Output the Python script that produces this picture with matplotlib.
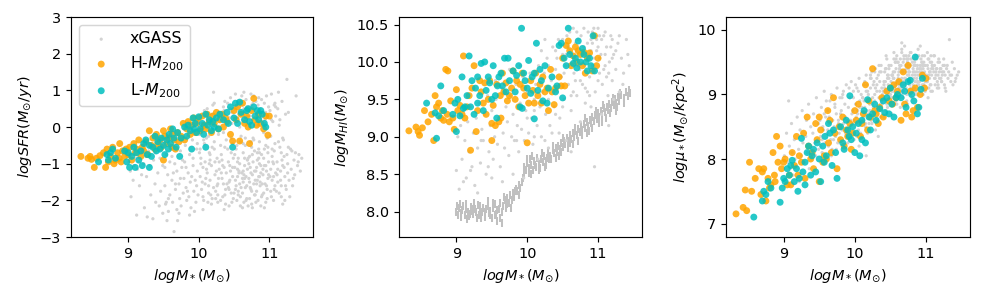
import matplotlib
matplotlib.use("Agg")
import matplotlib.pyplot as plt

# xGASS comparison sample: stellar mass, SFR and stellar surface density
xgass_mstar = [
    9.01, 9.03, 9.04, 9.06, 9.07, 9.08, 9.09,
    9.11, 9.12, 9.13, 9.15, 9.16, 9.17, 9.19,
    9.21, 9.22, 9.23, 9.25, 9.26, 9.27, 9.29,
    9.31, 9.32, 9.33, 9.35, 9.36, 9.38, 9.39, 9.39,
    9.41, 9.42, 9.44, 9.45, 9.46, 9.48, 9.49, 9.49,
    9.51, 9.52, 9.53, 9.54, 9.56, 9.57, 9.58, 9.59, 9.59, 9.55,
    9.61, 9.62, 9.63, 9.64, 9.65, 9.66, 9.67, 9.68, 9.69, 9.69,
    9.71, 9.72, 9.73, 9.74, 9.75, 9.76, 9.77, 9.78, 9.79, 9.79,
    9.81, 9.82, 9.83, 9.84, 9.85, 9.86, 9.87, 9.88, 9.89, 9.89,
    9.91, 9.92, 9.93, 9.94, 9.95, 9.96, 9.97, 9.98, 9.99, 9.99,
    10.01, 10.02, 10.03, 10.04, 10.05, 10.06, 10.07, 10.08, 10.09, 10.09, 10.04, 10.06,
    10.11, 10.12, 10.13, 10.14, 10.15, 10.16, 10.17, 10.18, 10.18, 10.19, 10.12, 10.14, 10.16, 10.19,
    10.21, 10.22, 10.23, 10.24, 10.25, 10.26, 10.27, 10.27, 10.28, 10.29, 10.22, 10.24, 10.26, 10.28, 10.29, 10.21,
    10.31, 10.32, 10.33, 10.34, 10.35, 10.36, 10.37, 10.38, 10.38, 10.39, 10.31, 10.33, 10.35, 10.36, 10.37, 10.39,
    10.41, 10.42, 10.43, 10.43, 10.44, 10.45, 10.46, 10.46, 10.47, 10.48, 10.48, 10.49, 10.41, 10.42, 10.44, 10.45, 10.47, 10.49,
    10.51, 10.51, 10.52, 10.53, 10.53, 10.54, 10.55, 10.55, 10.56, 10.56, 10.57, 10.57, 10.58, 10.58, 10.59, 10.59, 10.52, 10.54, 10.55, 10.58,
    10.61, 10.61, 10.62, 10.62, 10.63, 10.63, 10.64, 10.64, 10.65, 10.65, 10.66, 10.66, 10.67, 10.67, 10.68, 10.68, 10.69, 10.69, 10.62, 10.64, 10.66, 10.68,
    10.71, 10.71, 10.72, 10.72, 10.73, 10.73, 10.74, 10.74, 10.75, 10.75, 10.76, 10.76, 10.77, 10.77, 10.78, 10.78, 10.79, 10.79, 10.72, 10.74, 10.76, 10.78,
    10.81, 10.81, 10.82, 10.82, 10.83, 10.83, 10.84, 10.84, 10.85, 10.85, 10.86, 10.86, 10.87, 10.87, 10.88, 10.88, 10.89, 10.89, 10.82, 10.84, 10.86, 10.88,
    10.91, 10.91, 10.92, 10.92, 10.93, 10.93, 10.94, 10.94, 10.95, 10.95, 10.96, 10.96, 10.97, 10.97, 10.98, 10.98, 10.99, 10.99, 10.93, 10.97,
    11.01, 11.02, 11.02, 11.03, 11.04, 11.04, 11.05, 11.06, 11.06, 11.07, 11.08, 11.08, 11.09, 11.09, 11.03, 11.07,
    11.11, 11.12, 11.12, 11.13, 11.14, 11.15, 11.16, 11.17, 11.17, 11.18, 11.19, 11.19,
    11.21, 11.22, 11.23, 11.24, 11.25, 11.26, 11.27, 11.28, 11.29,
    11.31, 11.32, 11.33, 11.35, 11.36, 11.38, 11.40, 11.42, 11.44, 11.46,
    10.02, 10.05, 10.08, 10.11, 10.14, 10.17, 10.20, 10.23, 10.26, 10.29,
    10.32, 10.35, 10.38, 10.41, 10.44, 10.47, 10.50, 10.03, 10.07, 10.13,
    10.19, 10.25, 10.31, 10.37, 10.43, 10.49, 10.06, 10.16, 10.27, 10.34,
    10.46, 10.10, 10.22, 10.40, 10.01, 10.15, 10.28, 10.36, 10.44, 10.48,
    10.51, 10.53, 10.55, 10.57, 10.59, 10.61, 10.63, 10.65, 10.67, 10.69,
    10.71, 10.73, 10.75, 10.77, 10.79, 10.81, 10.83, 10.85, 10.87, 10.89,
    10.91, 10.93, 10.95, 10.97, 10.99, 10.52, 10.56, 10.60, 10.64, 10.68,
    10.72, 10.76, 10.80, 10.84, 10.88, 10.92, 10.96, 10.54, 10.58, 10.62,
    10.66, 10.70, 10.74, 10.78, 10.82, 10.86, 10.90, 10.94, 10.98, 10.55,
    10.65, 10.75, 10.85, 10.95, 10.60, 10.70, 10.80, 10.90, 10.63, 10.83,
    11.01, 11.03, 11.05, 11.07, 11.09, 11.11, 11.13, 11.15, 11.17, 11.19,
    11.21, 11.23, 11.25, 11.27, 11.30, 11.34, 11.37, 11.41, 11.02, 11.06,
    11.10, 11.14, 11.18, 11.22, 11.26, 11.04, 11.08, 11.12, 11.16, 11.20,
    9.52, 9.57, 9.62, 9.67, 9.72, 9.77, 9.82, 9.87, 9.92, 9.97,
    9.54, 9.64, 9.74, 9.84, 9.94, 9.60, 9.70, 9.80, 9.90, 9.98]
xgass_sfr = [
    -0.95, -1.20, -1.90, -0.75, -1.45, -1.05, -0.60,
    -0.85, -2.40, -1.15, -0.95, -1.60, -0.70, -1.30,
    -0.50, -1.00, -2.20, -0.80, -1.35, -2.45, -0.65,
    -1.05, -1.85, -0.45, -2.50, -0.90, -1.55, -0.70, -2.05,
    -0.30, -1.25, -2.15, -0.85, -1.75, -0.55, -2.35, -1.05,
    -0.40, -1.60, -2.10, -0.75, -1.30, -2.30, -0.25, -1.85, -0.95, -2.55,
    -0.55, -1.45, -2.05, -0.15, -2.85, -1.00, -1.70, -0.45, -2.25, -1.20,
    -0.20, -1.55, -1.95, -0.65, -2.15, -1.10, -0.35, -1.80, -1.40, -0.05,
    -0.50, -1.65, -2.00, -0.25, -1.25, -1.90, -0.75, -1.50, 0.05, -2.20,
    -0.35, -1.05, -1.75, -0.10, -1.45, -2.05, -0.60, -1.20, 0.15, -1.85,
    -0.20, -1.35, -0.85, -1.70, 0.10, -1.10, -2.00, -0.45, -1.55, -0.95, 0.30, -1.90,
    -0.30, -1.25, 0.25, -1.80, -0.70, -1.45, 0.05, -2.10, -1.05, -0.55, 0.50, -1.60, -0.90, -1.95,
    0.95, -0.40, -1.30, -1.75, 0.20, -0.85, -1.55, -2.05, 0.40, -1.15, -0.60, -1.95, 0.00, -1.40, -0.95, -1.65,
    0.30, -0.75, -1.40, -1.90, 0.55, -1.10, -0.55, -1.70, 0.10, -1.25, -2.00, -0.90, -1.55, 0.45, -1.85, -0.35,
    0.65, -0.95, -1.50, -2.15, 0.25, -1.20, -0.70, -1.80, 0.40, -1.35, -0.45, -1.95, 0.05, -1.65, -1.05, 0.80, -2.05, -0.85,
    0.50, -1.10, -1.70, 0.15, -0.60, -2.00, -1.35, 0.70, -0.85, -1.85, 0.35, -1.20, -1.55, 0.00, -0.40, -2.15, -1.45, 0.55, -0.95, -1.00,
    0.60, -1.25, -1.80, 0.20, -0.70, -1.50, 0.95, -2.05, -1.05, 0.40, -1.65, -0.50, 0.75, -1.35, -1.95, 0.10, -0.90, -1.15, -2.20, 0.50, -0.30, -1.60,
    0.55, -1.40, -0.80, -1.95, 0.30, -1.10, 0.90, -1.70, -0.55, -2.10, 0.20, -1.30, 0.65, -0.95, -1.55, 0.45, -1.85, -0.65, 0.00, -1.25, -2.20, -0.35,
    0.70, -1.20, -1.75, 0.35, -0.90, -1.45, 0.05, -2.00, -0.60, 0.80, -1.35, -1.00, 0.50, -1.60, -2.15, 0.25, -0.75, -1.90, -1.10, 0.60, -0.40, -1.25,
    0.40, -1.30, -0.85, -1.80, 0.65, -1.05, 0.10, -1.55, -2.05, -0.50, 0.85, -1.20, 0.30, -1.70, -0.70, -1.40, 0.55, -0.95, -2.20, -0.30,
    0.45, -1.15, -1.75, 0.90, -0.80, -1.45, 0.15, -2.00, -1.00, 0.60, -1.60, -0.45, -1.25, 0.30, -1.90, -0.65,
    -0.95, 0.50, -1.50, -0.40, -1.80, 0.20, -1.20, -0.70, -1.60, 0.70, -1.05, -2.10,
    -0.80, -1.35, 0.35, -1.70, 1.30, -1.00, -0.55, -1.45, -1.90,
    -1.15, -0.65, -1.60, -0.90, -1.30, 0.85, -1.05, -0.75, -1.20, -0.85,
    -0.60, -1.50, 0.45, -1.15, -0.25, -1.85, 0.60, -0.95, -1.60, 0.15,
    -1.25, -0.15, -2.10, -0.60, -1.45, 0.10, -1.80, -1.00, -0.35, -2.05,
    0.35, -1.20, -0.50, 0.70, -1.70, 0.30, -2.25, -0.75, -1.85, -1.05,
    -0.30, -1.40, 0.65, -1.55, -0.70, -1.00, -0.20, -2.25, 0.50, -1.10,
    -0.75, -1.60, 0.25, -1.25, -1.90, 0.85, -0.45, -1.40, -2.00, 0.30,
    -1.00, -1.65, 0.60, -0.30, -1.20, -2.05, 0.15, -0.85, -1.50, 0.75,
    -1.15, -0.60, 0.40, -1.95, -1.30, 0.90, -1.75, -0.25, -1.30, 0.55,
    -1.50, -0.75, -1.85, 0.40, -1.05, -0.15, -1.60, -0.50, 0.70, -1.40,
    0.20, -2.15, -0.40, 0.85, -1.55, -0.70, -1.85, 0.20, -0.55, -1.15,
    -0.85, -1.75, -1.35, -1.05, -1.65, -0.85, -1.45, -1.55, -1.20, -0.70,
    -1.35, 0.20, -0.95, -1.70, 0.55, -1.30, 0.95, -0.55, -1.90, -0.30,
    -1.10, -1.60, -0.75, 0.40, -0.60, -1.40, -0.70, -0.95, -0.25, -1.35,
    -1.75, 0.05, -0.90, -2.00, -1.25, -0.60, 0.65, -1.15, -1.45, -0.35,
    -1.10, -1.95, -0.80, -1.55, -2.35, -0.90, -1.10, -2.40, -0.85, -1.60,
    -2.05, -1.25, -1.40, -1.75, -2.30, -0.30, -2.55, -0.95, -1.35, -0.45]
xgass_mu = [
    8.05, 7.70, 8.40, 7.95, 8.90, 8.20, 7.85,
    8.55, 8.10, 7.75, 8.30, 8.00, 7.90, 8.65,
    8.15, 7.65, 8.45, 8.05, 8.75, 8.25, 7.95,
    8.35, 8.60, 8.10, 8.85, 7.85, 8.50, 8.20, 8.00,
    8.40, 8.70, 8.25, 8.05, 8.95, 8.30, 8.55, 8.15,
    8.60, 8.35, 8.80, 8.10, 8.45, 9.05, 8.25, 8.65, 8.00, 8.50,
    8.40, 8.75, 8.20, 8.55, 8.90, 8.30, 9.00, 8.15, 8.60, 8.45,
    8.50, 8.85, 8.35, 8.70, 9.10, 8.25, 8.60, 8.40, 8.95, 8.30,
    8.75, 8.45, 9.00, 8.55, 8.20, 8.85, 8.65, 9.15, 8.35, 8.60,
    8.80, 8.50, 8.95, 8.40, 9.20, 8.70, 8.55, 9.05, 8.60, 8.30,
    8.85, 8.55, 9.10, 8.70, 8.45, 9.25, 8.90, 8.60, 8.35, 9.00, 8.75, 8.20,
    8.95, 8.65, 9.15, 8.80, 8.50, 9.30, 8.75, 9.05, 8.40, 8.90, 8.60, 9.20, 8.05, 8.70,
    8.85, 9.10, 8.60, 9.35, 8.95, 8.70, 9.20, 8.80, 9.00, 8.45, 9.25, 8.55, 9.15, 8.90, 9.40, 8.75,
    9.05, 8.80, 9.30, 8.95, 9.20, 8.65, 9.45, 9.10, 8.85, 9.00, 9.25, 8.35, 9.05, 8.75, 9.35, 8.95,
    9.15, 9.35, 8.90, 9.20, 9.05, 9.55, 8.80, 9.30, 9.00, 9.25, 9.45, 8.95, 8.65, 9.10, 9.40, 8.85, 9.15, 9.00,
    9.20, 9.45, 9.05, 9.30, 8.95, 9.25, 9.55, 9.10, 9.35, 8.85, 9.50, 9.15, 9.40, 9.00, 9.60, 9.20, 8.70, 9.05, 9.25, 8.90,
    9.30, 9.50, 9.10, 9.35, 9.05, 9.40, 9.20, 9.55, 9.00, 9.45, 9.25, 9.65, 9.15, 9.35, 8.95, 9.50, 9.20, 9.60, 9.15, 8.95, 9.80, 9.05,
    9.25, 9.45, 9.10, 9.35, 9.55, 9.00, 9.30, 9.50, 9.20, 9.40, 9.05, 9.60, 9.35, 9.15, 9.45, 9.25, 9.10, 9.55, 9.40, 8.85, 9.30, 9.65,
    9.30, 9.50, 9.15, 9.40, 9.25, 9.55, 9.10, 9.35, 9.45, 9.20, 9.05, 9.60, 9.35, 9.25, 9.45, 9.15, 9.30, 9.70, 8.95, 9.50, 9.00, 9.40,
    9.35, 9.20, 9.45, 9.10, 9.40, 9.55, 9.25, 9.35, 9.50, 9.15, 9.30, 9.00, 9.45, 9.25, 9.60, 9.35, 9.20, 9.05, 9.30, 9.50,
    9.30, 9.45, 9.20, 9.40, 9.10, 9.55, 9.25, 9.35, 9.50, 9.15, 9.40, 9.30, 9.05, 9.45, 8.95, 9.60,
    9.35, 9.25, 9.45, 9.15, 9.35, 9.40, 9.20, 9.50, 9.30, 9.10, 9.35, 9.25,
    9.40, 9.20, 9.30, 9.45, 9.35, 9.15, 9.30, 9.05, 9.40,
    9.25, 9.35, 9.85, 9.20, 9.30, 9.15, 9.40, 9.25, 9.30, 9.35,
    8.65, 9.05, 8.40, 8.95, 8.70, 9.15, 8.55, 9.25, 8.80, 9.10,
    8.60, 9.35, 8.90, 9.20, 8.75, 9.30, 9.00, 8.35, 8.80, 8.90,
    9.00, 8.85, 9.15, 8.95, 9.40, 9.10, 8.60, 9.05, 8.70, 9.45,
    9.25, 8.80, 9.30, 9.05, 9.15, 8.55, 9.35, 8.85, 9.60, 9.40,
    8.95, 9.30, 9.10, 9.50, 8.85, 9.25, 9.45, 9.05, 9.35, 9.55,
    9.15, 8.90, 9.40, 9.25, 9.65, 9.05, 9.45, 9.20, 9.55, 9.00,
    9.40, 9.25, 9.60, 9.15, 9.45, 9.30, 9.10, 9.50, 8.80, 9.20,
    9.60, 9.35, 9.05, 9.55, 9.20, 9.75, 9.40, 9.35, 9.55, 9.15,
    9.70, 9.25, 9.45, 9.00, 9.35, 9.60, 9.15, 9.50, 9.25, 9.65,
    9.10, 9.55, 9.30, 9.45, 9.20, 9.75, 8.95, 9.60, 9.40, 9.05,
    9.20, 9.55, 9.35, 9.05, 9.45, 9.60, 9.25, 9.40, 9.15, 9.50,
    9.25, 9.35, 9.55, 9.10, 9.45, 9.30, 9.50, 9.20, 9.65, 9.15,
    9.40, 9.30, 9.55, 9.20, 9.45, 9.30, 9.50, 9.60, 9.10, 9.40,
    8.20, 8.70, 8.45, 8.05, 8.80, 8.55, 8.95, 8.40, 9.10, 8.75,
    8.30, 8.65, 8.15, 9.05, 8.60, 8.90, 8.30, 8.70, 8.25, 8.95]

# xGASS HI detections
xgass_det_mstar = [
    9.00, 9.02, 9.04, 9.06, 9.08, 9.10, 9.12, 9.14, 9.16, 9.18,
    9.20, 9.22, 9.24, 9.26, 9.28, 9.30, 9.32, 9.34, 9.36, 9.38,
    9.40, 9.42, 9.44, 9.46, 9.48, 9.50, 9.52, 9.54, 9.56, 9.58,
    9.60, 9.62, 9.64, 9.66, 9.68, 9.70, 9.72, 9.74, 9.76, 9.78,
    9.80, 9.82, 9.84, 9.86, 9.88, 9.90, 9.92, 9.94, 9.96, 9.98,
    10.00, 10.02, 10.04, 10.06, 10.08, 10.10, 10.12, 10.14, 10.16, 10.18,
    10.20, 10.22, 10.24, 10.26, 10.28, 10.30, 10.32, 10.34, 10.36, 10.38,
    10.40, 10.42, 10.44, 10.46, 10.48, 10.50, 10.52, 10.54, 10.56, 10.58,
    10.60, 10.62, 10.64, 10.66, 10.68, 10.70, 10.72, 10.74, 10.76, 10.78,
    10.80, 10.82, 10.84, 10.86, 10.88, 10.90, 10.92, 10.94, 10.96, 10.98,
    11.00, 11.02, 11.04, 11.06, 11.08, 11.10, 11.12, 11.14, 11.16, 11.18,
    11.20, 11.22, 11.25, 11.28, 11.30, 11.33, 11.36, 11.40, 11.44,
    10.45, 10.55, 10.62, 10.75, 10.90, 10.95, 11.05, 11.15, 10.30, 10.15,
    9.95, 10.50, 10.65, 10.70, 10.80, 10.85, 10.92, 11.00, 11.10, 11.20,
    10.60, 10.72, 10.88, 11.02, 10.40, 10.25, 9.75, 9.55, 9.80, 9.30,
    9.10, 9.50,
    10.05, 10.10, 10.20, 10.30, 10.35, 10.45, 10.50, 10.55, 10.65, 10.70,
    10.75, 10.80, 10.85, 10.90, 10.95, 11.00, 11.05, 11.10, 11.15, 11.20,
    11.25, 11.30, 11.35, 11.42, 10.58, 10.68, 10.78, 10.88, 10.98, 11.08,
    11.18, 10.42, 10.52, 10.62, 10.72, 10.82, 10.92, 11.02, 11.12, 11.22,
    9.85, 9.90, 10.00, 10.10, 10.25, 10.40, 9.65, 9.45, 9.35, 9.20]
xgass_det_mhi = [
    8.55, 9.00, 8.30, 9.15, 8.70, 9.35, 8.95, 8.45, 9.20, 8.80,
    9.40, 8.60, 9.05, 8.35, 9.25, 8.85, 9.45, 8.65, 9.10, 8.95,
    9.30, 8.50, 9.55, 8.80, 9.15, 9.35, 8.70, 9.00, 9.50, 8.90,
    9.25, 8.60, 9.65, 9.05, 8.85, 9.40, 9.20, 8.75, 9.55, 9.00,
    9.30, 8.95, 9.70, 9.15, 8.80, 9.45, 9.10, 9.80, 8.95, 9.35,
    9.60, 9.05, 9.85, 9.25, 8.90, 9.50, 9.70, 9.15, 9.95, 9.40,
    9.00, 9.60, 9.85, 9.30, 10.05, 9.50, 9.15, 9.75, 10.20, 9.40,
    9.90, 9.60, 10.30, 9.25, 9.80, 10.10, 9.50, 9.95, 10.35, 9.70,
    10.40, 9.35, 10.00, 9.85, 10.25, 9.55, 10.10, 9.90, 10.35, 9.70,
    10.20, 9.45, 10.05, 10.40, 9.80, 10.15, 9.95, 10.45, 9.60, 10.30,
    10.45, 9.85, 10.10, 9.70, 10.35, 9.95, 10.20, 9.55, 10.00, 10.35,
    9.75, 10.10, 9.90, 10.25, 9.60, 10.05, 9.85, 10.30, 9.95,
    9.05, 8.95, 8.80, 9.20, 9.40, 8.60, 9.30, 9.15, 8.85, 8.70,
    8.45, 10.30, 10.45, 10.40, 10.45, 10.25, 10.40, 10.20, 10.40, 10.30,
    10.15, 9.95, 10.10, 10.05, 10.15, 10.30, 9.90, 9.75, 8.50, 8.25,
    8.40, 8.45,
    9.75, 9.35, 10.15, 9.95, 9.05, 9.70, 9.40, 10.10, 9.60, 10.15,
    9.75, 9.95, 9.60, 10.30, 10.05, 9.75, 10.30, 10.10, 9.85, 10.05,
    10.15, 10.35, 9.70, 10.10, 10.20, 9.75, 10.10, 9.55, 10.15, 9.90,
    10.20, 10.05, 9.85, 9.55, 10.30, 9.65, 10.25, 10.35, 9.80, 9.50,
    8.95, 9.95, 9.25, 9.00, 8.95, 9.30, 8.40, 8.60, 8.95, 8.55]

# xGASS HI non-detections (upper limits)
xgass_lim_mstar = [
    9.00, 9.02, 9.04, 9.06, 9.08, 9.10, 9.12, 9.14, 9.16, 9.18,
    9.20, 9.22, 9.24, 9.26, 9.28, 9.30, 9.32, 9.34, 9.36, 9.38,
    9.40, 9.42, 9.44, 9.46, 9.48, 9.50, 9.52, 9.54, 9.56, 9.58,
    9.60, 9.62, 9.64, 9.66, 9.68, 9.70, 9.72, 9.74, 9.76, 9.78,
    9.80, 9.82, 9.84, 9.86, 9.88, 9.90, 9.92, 9.94, 9.96, 9.98,
    10.00, 10.02, 10.04, 10.06, 10.08, 10.10, 10.12, 10.14, 10.16, 10.18,
    10.20, 10.22, 10.24, 10.26, 10.28, 10.30, 10.32, 10.34, 10.36, 10.38,
    10.40, 10.42, 10.44, 10.46, 10.48, 10.50, 10.52, 10.54, 10.56, 10.58,
    10.60, 10.62, 10.64, 10.66, 10.68, 10.70, 10.72, 10.74, 10.76, 10.78,
    10.80, 10.82, 10.84, 10.86, 10.88, 10.90, 10.92, 10.94, 10.96, 10.98,
    11.00, 11.02, 11.04, 11.06, 11.08, 11.10, 11.12, 11.14, 11.16, 11.18,
    11.20, 11.22, 11.24, 11.26, 11.28, 11.30, 11.33, 11.36, 11.39, 11.42,
    11.45, 9.05, 9.15, 9.25, 9.35, 9.45, 9.55, 9.65, 10.05, 10.25,
    10.45, 10.65, 10.85, 11.05, 11.25,
    9.01, 9.07, 9.13, 9.19, 9.23, 9.29, 9.33, 9.41, 9.47, 9.51,
    9.57, 9.61, 9.67, 9.71, 9.77, 9.83, 9.89, 9.95, 9.99,
    10.03, 10.07, 10.11, 10.17, 10.21, 10.27, 10.31, 10.37, 10.41, 10.47,
    10.51, 10.57, 10.61, 10.67, 10.71, 10.77, 10.81, 10.87, 10.91, 10.97,
    11.01, 11.07, 11.11, 11.17, 11.21, 11.27, 11.31, 11.37, 11.43]
xgass_lim_mhi = [
    8.00, 7.95, 8.05, 7.98, 8.02, 8.08, 7.96, 8.03, 8.00, 7.94,
    8.06, 8.01, 7.97, 8.04, 8.00, 8.09, 7.95, 8.02, 7.99, 8.05,
    7.93, 8.03, 8.07, 7.98, 8.01, 7.92, 8.05, 8.10, 7.97, 7.88,
    8.04, 8.12, 8.00, 8.08, 8.15, 8.05, 8.18, 8.12, 8.22, 8.15,
    8.25, 8.20, 8.30, 8.28, 8.35, 8.32, 8.40, 8.45, 8.60, 8.55,
    8.65, 8.58, 8.70, 8.62, 8.55, 8.68, 8.60, 8.72, 8.64, 8.58,
    8.70, 8.66, 8.75, 8.68, 8.72, 8.80, 8.74, 8.70, 8.82, 8.78,
    8.85, 8.80, 8.88, 8.84, 8.92, 8.87, 8.95, 8.90, 8.98, 8.94,
    9.02, 8.97, 9.05, 9.00, 9.08, 9.03, 9.10, 9.06, 9.14, 9.09,
    9.17, 9.12, 9.20, 9.15, 9.23, 9.18, 9.26, 9.21, 9.29, 9.24,
    9.32, 9.27, 9.35, 9.30, 9.38, 9.33, 9.40, 9.36, 9.44, 9.39,
    9.47, 9.42, 9.50, 9.45, 9.53, 9.48, 9.56, 9.52, 9.60, 9.55,
    9.58, 8.10, 7.90, 8.12, 7.92, 8.14, 7.95, 7.85, 8.50, 8.60,
    8.75, 8.90, 9.05, 9.20, 9.35,
    8.07, 7.93, 8.10, 7.97, 8.04, 7.91, 8.08, 8.00, 7.95, 8.12,
    8.02, 7.92, 8.20, 8.10, 8.05, 8.28, 8.22, 8.50, 8.70,
    8.52, 8.75, 8.62, 8.55, 8.78, 8.62, 8.70, 8.88, 8.72, 8.80,
    8.98, 8.85, 8.92, 9.12, 8.95, 9.02, 9.25, 9.08, 9.12, 9.35,
    9.18, 9.42, 9.25, 9.32, 9.52, 9.40, 9.58, 9.45, 9.62]

# H-M200 sample
h_mstar = [
    8.33, 8.43, 8.46, 8.48, 8.52, 8.55, 8.60, 8.65, 8.68, 8.70,
    8.72, 8.75, 8.78, 8.80, 8.82, 8.85, 8.87, 8.88, 8.90, 8.92,
    8.95, 8.97, 9.00, 9.02, 9.05, 9.08, 9.10, 9.12, 9.15, 9.18,
    9.20, 9.22, 9.25, 9.28, 9.30, 9.33, 9.35, 9.38, 9.40, 9.42,
    9.45, 9.47, 9.50, 9.50, 9.52, 9.55, 9.57, 9.60, 9.62, 9.63,
    9.65, 9.67, 9.70, 9.72, 9.75, 9.78, 9.80, 9.83, 9.85, 9.88,
    9.90, 9.93, 9.95, 9.97, 10.00, 10.02, 10.05, 10.08, 10.10, 10.12,
    10.15, 10.18, 10.20, 10.22, 10.25, 10.28, 10.30, 10.33, 10.35, 10.38,
    10.40, 10.45, 10.48, 10.50, 10.53, 10.55, 10.58, 10.60, 10.62, 10.65,
    10.68, 10.70, 10.72, 10.75, 10.78, 10.80, 10.82, 10.85, 10.88, 10.92,
    10.95, 10.98, 11.00]
h_sfr = [
    -0.80, -0.85, -0.80, -0.88, -1.10, -0.85, -0.78, -0.70, -1.10, -0.60,
    -0.95, -0.80, -0.55, -1.00, -0.90, -0.70, -0.85, -0.45, -0.95, -0.65,
    -0.80, -0.60, -0.75, -0.55, -0.90, -0.45, -0.70, -0.60, -0.35, -0.80,
    -0.55, -0.65, -0.40, -0.75, -0.10, -0.50, -0.30, -0.60, -0.20, -0.45,
    -0.35, -0.55, -0.10, -0.90, -0.25, -0.45, -0.30, -0.05, -0.55, -0.20,
    -0.35, -0.60, -0.15, -0.40, -0.25, 0.10, -0.35, -0.05, 0.15, -0.20,
    0.05, 0.25, -0.15, 0.10, 0.25, -0.10, 0.30, 0.05, -0.05, 0.35,
    0.15, -0.15, 0.30, 0.10, 0.40, -0.05, 0.20, 0.35, 0.00, 0.25,
    0.15, -0.20, -0.38, 0.45, 0.20, 0.55, -0.38, 0.35, 0.65, 0.10,
    0.30, 0.00, -0.45, 0.45, 0.78, 0.20, 0.05, 0.35, 0.10, -0.05,
    0.30, -0.22, 0.30]
h_mhi = [
    9.08, 9.13, 9.07, 9.02, 9.12, 9.35, 9.20, 9.30, 8.95, 9.55,
    9.40, 9.45, 9.25, 9.35, 9.22, 9.90, 9.30, 9.88, 9.20, 9.48,
    9.25, 9.10, 9.63, 9.35, 9.42, 9.30, 10.08, 9.25, 9.40, 9.55,
    8.82, 9.65, 9.95, 9.07, 9.35, 9.75, 9.60, 9.45, 9.72, 9.30,
    9.50, 9.75, 9.18, 8.95, 9.42, 9.15, 9.70, 9.20, 9.55, 9.25,
    9.85, 9.60, 9.72, 9.48, 9.55, 9.65, 9.88, 9.50, 9.75, 9.40,
    9.70, 9.85, 9.65, 9.55, 8.92, 9.45, 9.75, 9.62, 9.45, 9.85,
    9.55, 9.70, 9.45, 9.80, 9.60, 9.65, 9.35, 9.90, 9.60, 9.43,
    9.65, 9.80, 9.68, 10.05, 9.68, 10.22, 10.28, 10.15, 9.95, 10.08,
    10.20, 10.00, 10.15, 10.10, 9.95, 10.13, 9.85, 10.05, 10.12, 9.88,
    10.35, 9.95, 10.05]
h_mu = [
    7.15, 7.25, 7.52, 7.20, 7.95, 7.50, 7.70, 7.85, 7.45, 7.80,
    7.85, 7.35, 7.70, 7.55, 7.60, 8.10, 7.75, 7.65, 8.35, 7.95,
    8.20, 7.85, 7.95, 8.00, 7.60, 7.75, 7.60, 8.10, 7.90, 8.35,
    7.75, 8.05, 7.95, 8.40, 7.70, 8.65, 8.20, 8.00, 8.10, 7.85,
    8.55, 8.30, 8.65, 7.65, 8.45, 7.95, 8.05, 8.00, 8.75, 8.25,
    8.60, 8.10, 8.95, 8.40, 7.85, 8.50, 8.30, 8.65, 8.20, 8.45,
    8.35, 8.55, 8.15, 8.40, 8.75, 8.60, 8.85, 8.35, 8.55, 8.70,
    9.15, 8.45, 8.90, 8.65, 9.40, 8.75, 8.70, 8.55, 8.80, 8.95,
    8.65, 9.05, 8.90, 9.10, 8.85, 9.15, 8.95, 9.05, 9.20, 8.60,
    9.35, 8.85, 8.70, 9.45, 9.05, 8.65, 8.75, 9.10, 8.80, 9.00,
    9.30, 9.10, 9.25]

# L-M200 sample
l_mstar = [
    8.58, 8.70, 8.72, 8.75, 8.78, 8.82, 8.95, 8.98, 9.00, 9.02,
    9.05, 9.08, 9.10, 9.12, 9.15, 9.18, 9.20, 9.22, 9.25, 9.27,
    9.30, 9.30, 9.33, 9.35, 9.38, 9.40, 9.42, 9.45, 9.47, 9.50,
    9.52, 9.55, 9.57, 9.58, 9.60, 9.63, 9.65, 9.68, 9.70, 9.73,
    9.75, 9.80, 9.83, 9.85, 9.88, 9.90, 9.92, 9.93, 9.95, 9.97,
    10.00, 10.02, 10.05, 10.07, 10.10, 10.10, 10.13, 10.15, 10.18, 10.20,
    10.22, 10.25, 10.28, 10.30, 10.35, 10.40, 10.42, 10.45, 10.48, 10.50,
    10.52, 10.55, 10.58, 10.60, 10.65, 10.68, 10.70, 10.72, 10.75, 10.78,
    10.80, 10.83, 10.85, 10.88, 10.90, 10.93, 10.95]
l_sfr = [
    -0.95, -0.75, -0.90, -0.70, -0.60, -0.85, -0.65, -0.95, -0.70, -1.10,
    -0.80, -0.55, -1.10, -0.70, -0.90, -0.65, -1.05, -0.45, -0.35, -0.75,
    -1.10, -0.50, -0.80, -0.55, -0.25, -0.65, -0.40, -0.60, -0.30, -0.50,
    -0.75, -0.35, -0.60, -0.20, -0.45, -0.05, -0.30, -0.55, -0.15, -0.80,
    -0.30, 0.00, -0.25, 0.05, -0.10, -0.60, 0.25, -0.05, 0.10, -0.15,
    0.28, -0.05, 0.10, -0.20, 0.35, -0.55, 0.05, 0.20, -0.10, 0.15,
    0.00, 0.25, -0.05, 0.35, 0.20, 0.40, 0.10, 0.55, -0.55, 0.25,
    0.65, 0.10, 0.68, 0.40, 0.20, 0.45, 0.50, 0.15, 0.05, 0.55,
    0.30, 0.45, 0.20, 0.45, 0.35, 0.10, 0.00]
l_mhi = [
    9.45, 9.32, 8.98, 9.28, 9.68, 9.35, 9.30, 9.45, 9.07, 9.50,
    9.28, 9.80, 9.38, 9.40, 9.55, 10.08, 9.40, 9.75, 9.30, 9.65,
    9.80, 9.45, 9.55, 9.98, 9.35, 10.00, 9.62, 9.80, 9.72, 9.50,
    9.95, 9.55, 9.25, 9.68, 9.80, 9.85, 9.68, 10.05, 9.60, 10.05,
    9.75, 9.88, 9.60, 9.82, 9.95, 9.40, 10.45, 9.38, 9.85, 9.75,
    9.65, 10.02, 9.58, 9.80, 9.24, 9.85, 10.25, 9.62, 9.90, 9.75,
    9.48, 9.95, 9.45, 9.65, 9.80, 9.60, 9.68, 10.22, 10.25, 9.52,
    10.05, 9.95, 10.45, 10.10, 9.98, 10.05, 9.92, 10.28, 10.00, 10.18,
    10.10, 10.00, 9.88, 10.05, 9.95, 10.35, 9.88]
l_mu = [
    7.10, 7.35, 7.50, 7.45, 7.65, 7.55, 7.33, 7.55, 7.70, 7.65,
    7.85, 7.75, 7.90, 7.98, 7.65, 7.85, 7.50, 7.70, 8.32, 7.80,
    7.95, 7.60, 8.10, 8.20, 7.75, 8.05, 8.15, 7.80, 8.25, 8.00,
    7.65, 8.20, 7.95, 8.35, 8.05, 8.55, 8.40, 7.90, 8.45, 8.10,
    7.70, 8.50, 8.25, 8.15, 8.60, 8.45, 8.35, 8.98, 8.30, 8.50,
    8.10, 8.40, 8.55, 8.05, 8.30, 8.60, 8.75, 8.25, 8.92, 8.65,
    8.45, 8.70, 8.85, 8.60, 8.78, 8.90, 8.72, 8.95, 8.70, 9.10,
    8.85, 8.65, 8.95, 9.00, 8.95, 9.15, 9.05, 8.80, 9.20, 9.22,
    9.00, 8.90, 9.58, 8.70, 8.80, 9.08, 9.25]

grey = '#d3d3d3'
grey_lim = '#c0c0c0'
orange = 'orange'
teal = 'c'

fig = plt.figure(figsize=(9.433, 2.875), dpi=104)
ax1 = fig.add_axes([0.0724, 0.207, 0.2467, 0.736])
ax2 = fig.add_axes([0.4067, 0.207, 0.2477, 0.736])
ax3 = fig.add_axes([0.7401, 0.207, 0.2487, 0.736])

# panel 1: SFR
ax1.scatter(xgass_mstar, xgass_sfr, s=5, c=grey, edgecolors='none', label='xGASS')
ax1.scatter(h_mstar, h_sfr, s=23, c=orange, alpha=0.85, edgecolors='none', label='H-$M_{200}$')
ax1.scatter(l_mstar, l_sfr, s=23, c=teal, alpha=0.85, edgecolors='none', label='L-$M_{200}$')
ax1.set_xlim(8.19, 11.62)
ax1.set_ylim(-3, 3)
ax1.set_yticks([-3, -2, -1, 0, 1, 2, 3])
ax1.set_ylabel(r'$logSFR(M_{\odot}/yr)$')
ax1.legend(loc='upper left', fontsize=11)

# panel 2: HI mass
ax2.scatter(xgass_lim_mstar, xgass_lim_mhi, s=36, c=grey_lim, marker='|', linewidths=1.4)
ax2.scatter(xgass_det_mstar, xgass_det_mhi, s=5, c=grey, edgecolors='none')
ax2.scatter(h_mstar, h_mhi, s=23, c=orange, alpha=0.85, edgecolors='none')
ax2.scatter(l_mstar, l_mhi, s=23, c=teal, alpha=0.85, edgecolors='none')
ax2.set_xlim(8.19, 11.62)
ax2.set_ylim(7.66, 10.6)
ax2.set_yticks([8.0, 8.5, 9.0, 9.5, 10.0, 10.5])
ax2.set_yticklabels(['8.0', '8.5', '9.0', '9.5', '10.0', '10.5'])
ax2.set_ylabel(r'$logM_{HI}(M_{\odot})$')

# panel 3: stellar surface density
ax3.scatter(xgass_mstar, xgass_mu, s=5, c=grey, edgecolors='none')
ax3.scatter(h_mstar, h_mu, s=23, c=orange, alpha=0.85, edgecolors='none')
ax3.scatter(l_mstar, l_mu, s=23, c=teal, alpha=0.85, edgecolors='none')
ax3.set_xlim(8.19, 11.62)
ax3.set_ylim(6.79, 10.2)
ax3.set_yticks([7, 8, 9, 10])
ax3.set_ylabel(r'$log\mu_*(M_{\odot}/kpc^2)$')

for ax in (ax1, ax2, ax3):
    ax.set_xticks([9, 10, 11])
    ax.set_xlabel(r'$logM_*(M_{\odot})$')

fig.savefig('out.png', dpi=104)
